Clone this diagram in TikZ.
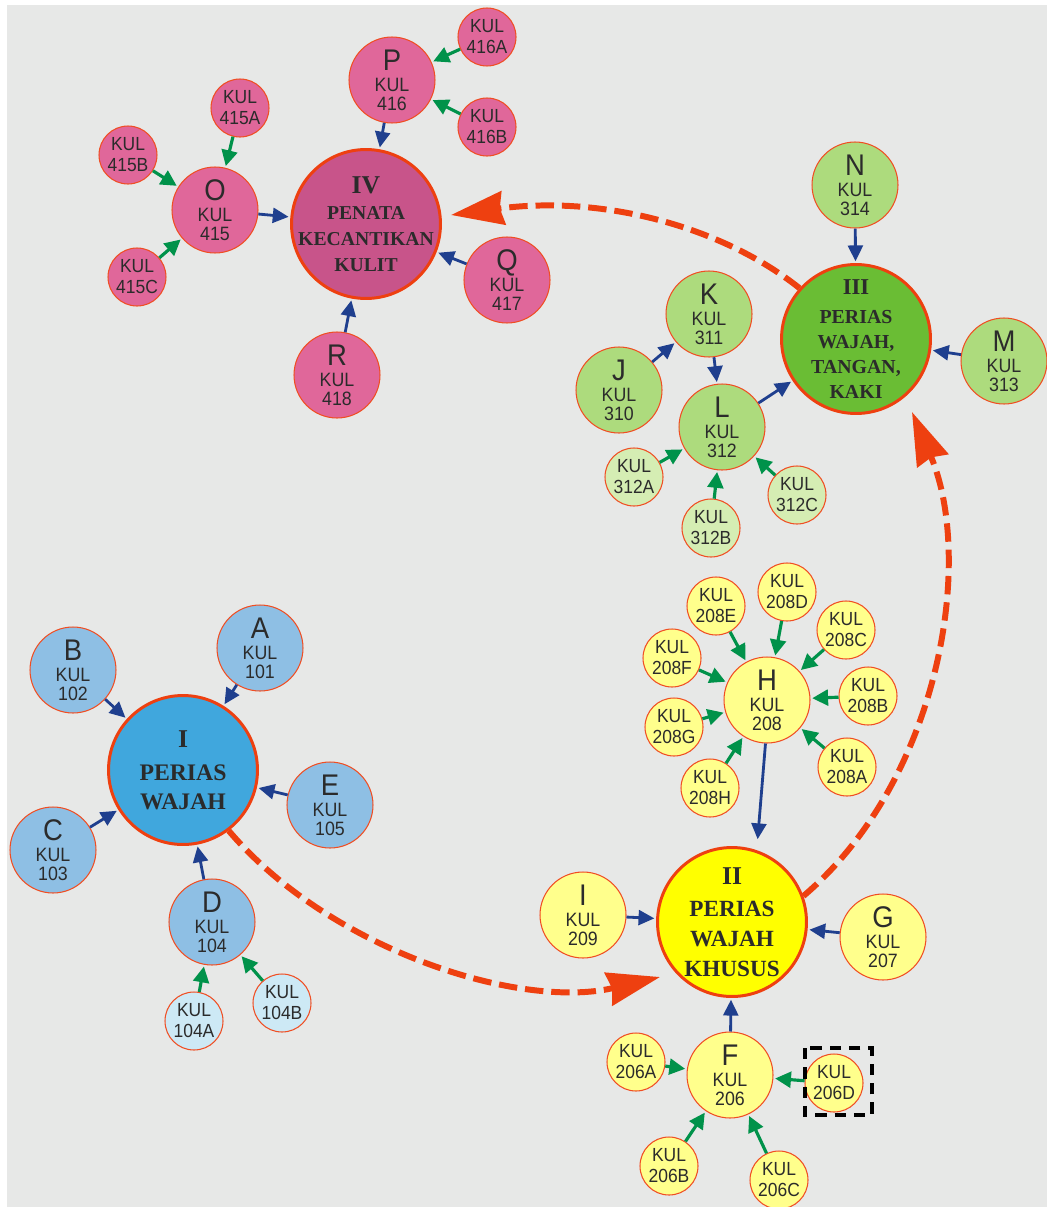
\documentclass[tikz,border=0pt]{standalone}
\usepackage{fontspec}
\setmainfont{Liberation Sans}
\newfontfamily\kulfont[FakeStretch=0.92]{Liberation Sans}
\newfontfamily\romfont{Liberation Serif}
\usetikzlibrary{arrows.meta}
\definecolor{bg}{HTML}{E7E8E7}
\definecolor{rim}{HTML}{F04E23}
\definecolor{ink}{HTML}{2B2B2B}
\definecolor{pinkM}{HTML}{C8548A}
\definecolor{pinkS}{HTML}{E0679A}
\definecolor{greenM}{HTML}{6ABD34}
\definecolor{greenS}{HTML}{ADDB7D}
\definecolor{greenT}{HTML}{D5EDB3}
\definecolor{yellowM}{HTML}{FFFF00}
\definecolor{yellowS}{HTML}{FFFF8C}
\definecolor{blueM}{HTML}{40A7DD}
\definecolor{blueS}{HTML}{8EBFE4}
\definecolor{blueT}{HTML}{CDE9F5}
\definecolor{arrblue}{HTML}{1F3F8E}
\definecolor{arrgreen}{HTML}{00924A}
\definecolor{arrred}{HTML}{EE4010}
\newcommand\ltr[1]{{\fontsize{17}{17}\selectfont #1}}

\begin{document}
\begin{tikzpicture}[x=0.02cm,y=-0.02cm]
\tikzstyle{every node}+=[inner sep=0pt]
\tikzstyle{ball}=[circle, draw=rim, line width=0.6pt, text=ink]
\tikzstyle{mainball}=[ball, draw=arrred, minimum size=2.98cm, line width=1.7pt, inner sep=-15pt, align=center]
\tikzstyle{midball}=[ball, minimum size=1.72cm, align=center, font=\kulfont\fontsize{11}{10.8}\selectfont]
\tikzstyle{smallball}=[ball, minimum size=1.16cm, align=center, font=\kulfont\fontsize{10.8}{12}\selectfont]
\tikzstyle{bluearr}=[draw=arrblue, line width=1.6pt, -{Triangle[length=9pt,width=8.5pt]}, shorten >=1pt]
\tikzstyle{greenarr}=[draw=arrgreen, line width=1.8pt, -{Triangle[length=9pt,width=9pt]}, shorten >=1pt]
\tikzstyle{redarr}=[draw=arrred, line width=3.4pt, dash pattern=on 10.5pt off 4.5pt, -{Stealth[length=30pt,width=19pt,inset=2pt]}]
\useasboundingbox (0,0) rectangle (1047,1207);
\fill [bg] (7,5) rectangle (1047,1207);
% IV
\node [mainball, fill=pinkM, font=\romfont\bfseries\fontsize{11.2}{14.8}\selectfont] (m4) at (366,224) {{\fontsize{14.6}{14.6}\selectfont IV}\\PENATA\\KECANTIKAN\\KULIT};
\node [midball, fill=pinkS] (nP) at (392,80) {\ltr{P}\\[1.2pt]KUL\\416};
\node [smallball, fill=pinkS] (s416a) at (487,37) {KUL\\416A};
\node [smallball, fill=pinkS] (s416b) at (487,127) {KUL\\416B};
\node [midball, fill=pinkS] (nO) at (215,210) {\ltr{O}\\[1.2pt]KUL\\415};
\node [smallball, fill=pinkS] (s415a) at (240,108) {KUL\\415A};
\node [smallball, fill=pinkS] (s415b) at (128,155) {KUL\\415B};
\node [smallball, fill=pinkS] (s415c) at (137,277) {KUL\\415C};
\node [midball, fill=pinkS] (nQ) at (507,280) {\ltr{Q}\\[1.2pt]KUL\\417};
\node [midball, fill=pinkS] (nR) at (337,375) {\ltr{R}\\[1.2pt]KUL\\418};
% III
\node [mainball, fill=greenM, font=\romfont\bfseries\fontsize{11.3}{14.2}\selectfont] (m3) at (856,339) {{\fontsize{12.9}{12.9}\selectfont III}\\[2.3pt]PERIAS\\WAJAH,\\TANGAN,\\KAKI};
\node [midball, fill=greenS] (nN) at (855,185) {\ltr{N}\\[1.2pt]KUL\\314};
\node [midball, fill=greenS] (nM) at (1004,361) {\ltr{M}\\[1.2pt]KUL\\313};
\node [midball, fill=greenS] (nK) at (709,314) {\ltr{K}\\[1.2pt]KUL\\311};
\node [midball, fill=greenS] (nJ) at (619,390) {\ltr{J}\\[1.2pt]KUL\\310};
\node [midball, fill=greenS] (nL) at (722,427) {\ltr{L}\\[1.2pt]KUL\\312};
\node [smallball, fill=greenT] (s312a) at (634,477) {KUL\\312A};
\node [smallball, fill=greenT] (s312b) at (711,528) {KUL\\312B};
\node [smallball, fill=greenT] (s312c) at (797,495) {KUL\\312C};
% II
\node [mainball, fill=yellowM, font=\romfont\bfseries\fontsize{13.2}{17}\selectfont] (m2) at (732,922) {{\fontsize{14.6}{14.6}\selectfont II}\\[1.2pt]PERIAS\\WAJAH\\KHUSUS};
\node [midball, fill=yellowS] (nH) at (767,700) {\ltr{H}\\[1.2pt]KUL\\208};
\node [smallball, fill=yellowS] (s208a) at (847,767) {KUL\\208A};
\node [smallball, fill=yellowS] (s208b) at (868,696) {KUL\\208B};
\node [smallball, fill=yellowS] (s208c) at (846,630) {KUL\\208C};
\node [smallball, fill=yellowS] (s208d) at (787,592) {KUL\\208D};
\node [smallball, fill=yellowS] (s208e) at (716,606) {KUL\\208E};
\node [smallball, fill=yellowS] (s208f) at (672,658) {KUL\\208F};
\node [smallball, fill=yellowS] (s208g) at (674,727) {KUL\\208G};
\node [smallball, fill=yellowS] (s208h) at (710,788) {KUL\\208H};
\node [midball, fill=yellowS] (nI) at (583,915) {\ltr{I}\\[1.2pt]KUL\\209};
\node [midball, fill=yellowS] (nG) at (883,937) {\ltr{G}\\[1.2pt]KUL\\207};
\node [midball, fill=yellowS] (nF) at (730,1075) {\ltr{F}\\[1.2pt]KUL\\206};
\node [smallball, fill=yellowS] (s206a) at (636,1062) {KUL\\206A};
\node [smallball, fill=yellowS] (s206b) at (669,1166) {KUL\\206B};
\node [smallball, fill=yellowS] (s206c) at (779,1180) {KUL\\206C};
\node [smallball, fill=yellowS] (s206d) at (834,1083) {KUL\\206D};
\draw [black, line width=2.3pt, dash pattern=on 6.5pt off 4.5pt] ([shift={(-29,-35)}]s206d.center) rectangle ([shift={(38,32)}]s206d.center);
% I
\node [mainball, fill=blueM, font=\romfont\bfseries\fontsize{13.5}{16.5}\selectfont] (m1) at (183,770) {{\fontsize{14.6}{14.6}\selectfont I}\\[2.3pt]PERIAS\\WAJAH};
\node [midball, fill=blueS] (nA) at (260,648) {\ltr{A}\\[1.2pt]KUL\\101};
\node [midball, fill=blueS] (nB) at (73,670) {\ltr{B}\\[1.2pt]KUL\\102};
\node [midball, fill=blueS] (nC) at (53,850) {\ltr{C}\\[1.2pt]KUL\\103};
\node [midball, fill=blueS] (nE) at (330,805) {\ltr{E}\\[1.2pt]KUL\\105};
\node [midball, fill=blueS] (nD) at (212,922) {\ltr{D}\\[1.2pt]KUL\\104};
\node [smallball, fill=blueT] (s104a) at (194,1021) {KUL\\104A};
\node [smallball, fill=blueT] (s104b) at (282,1003) {KUL\\104B};
% arrows
\draw [bluearr] (nP) -- (m4);
\draw [bluearr] (nO) -- (m4);
\draw [bluearr] (nQ) -- (m4);
\draw [bluearr] (nR) -- (m4);
\draw [greenarr] (s416a) -- (nP);
\draw [greenarr] (s416b) -- (nP);
\draw [greenarr] (s415a) -- (nO);
\draw [greenarr] (s415b) -- (nO);
\draw [greenarr] (s415c) -- (nO);
\draw [bluearr] (nN) -- (m3);
\draw [bluearr] (nM) -- (m3);
\draw [bluearr] (nL) -- (m3);
\draw [bluearr] (nJ) -- (nK);
\draw [bluearr] (nK) -- (nL);
\draw [greenarr] (s312a) -- (nL);
\draw [greenarr] (s312b) -- (nL);
\draw [greenarr] (s312c) -- (nL);
\draw [greenarr] (s208a) -- (nH);
\draw [greenarr] (s208b) -- (nH);
\draw [greenarr] (s208c) -- (nH);
\draw [greenarr] (s208d) -- (nH);
\draw [greenarr] (s208e) -- (nH);
\draw [greenarr] (s208f) -- (nH);
\draw [greenarr] (s208g) -- (nH);
\draw [greenarr] (s208h) -- (nH);
\draw [bluearr, shorten >=0.22cm] (nH.268) -- (m2.71);
\draw [bluearr] (nI) -- (m2);
\draw [bluearr] (nG) -- (m2);
\draw [bluearr] (nF) -- (m2);
\draw [greenarr] (s206a) -- (nF);
\draw [greenarr] (s206b) -- (nF);
\draw [greenarr] (s206c) -- (nF);
\draw [greenarr] (s206d) -- (nF);
\draw [bluearr] (nA) -- (m1);
\draw [bluearr] (nB) -- (m1);
\draw [bluearr] (nC) -- (m1);
\draw [bluearr] (nE) -- (m1);
\draw [bluearr] (nD) -- (m1);
\draw [greenarr] (s104a) -- (nD);
\draw [greenarr] (s104b) -- (nD);
% dashed links between the four groups
\coordinate (tip2) at (660,977);
\coordinate (tip3) at (912,412);
\coordinate (tip4) at (451,215);
\draw [redarr] (m1.-53) .. controls (330,950) and (520,1010) .. (tip2);
\draw [redarr] (m2.20) .. controls (940,780) and (975,560) .. (tip3);
\draw [redarr] (m3.138) .. controls (720,225) and (600,195) .. (tip4);
\end{tikzpicture}
\end{document}
